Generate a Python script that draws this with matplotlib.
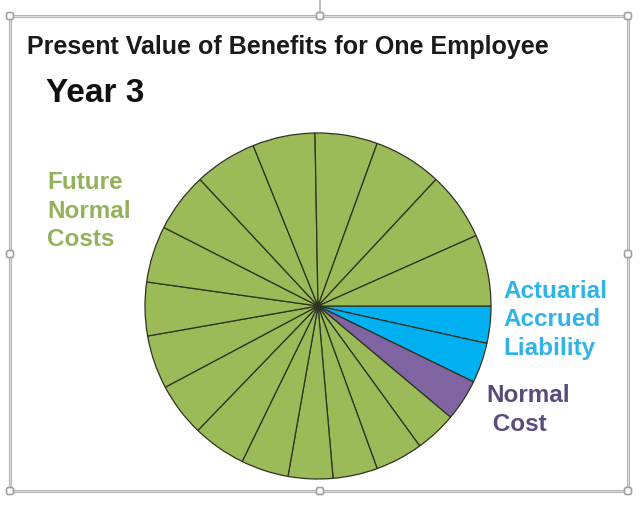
import matplotlib.pyplot as plt
from matplotlib.patches import FancyBboxPatch, Rectangle

# slices clockwise from 3 o'clock: accrued liability (2 yrs), normal cost, future years
slice_sizes = [12.5, 13.5, 14,
               14, 16, 15, 15, 16, 18, 18, 18, 18, 19, 20, 21, 21, 21, 23, 23, 24]
slice_groups = ["aal", "aal", "nc"] + ["fnc"] * 17

colores = {"aal": "#00B0F0", "nc": "#8064A2", "fnc": "#9BBB59"}
color_texto = {"aal": "#2FB4E8", "nc": "#5B4B7A", "fnc": "#93B35A"}

titulo = "Present Value of Benefits for One Employee"
subtitulo = "Year 3"

W, H = 641, 505
fig = plt.figure(figsize=(W / 100, H / 100), dpi=100)
ax = fig.add_axes([0, 0, 1, 1])

# pie in pixel coordinates (y measured from bottom)
ax.pie(slice_sizes, colors=[colores[g] for g in slice_groups],
       startangle=0, counterclock=False, center=(318, H - 306), radius=173,
       wedgeprops=dict(edgecolor="#2d3320", linewidth=0.9))
ax.set_xlim(0, W)
ax.set_ylim(0, H)
ax.set_aspect("equal")
ax.axis("off")

# selection frame with handles
gris = "#b4b4b4"
ax.add_patch(Rectangle((10, H - 491), 618, 475, fill=False,
                       edgecolor=gris, linewidth=2.2, zorder=5))
ax.add_patch(Rectangle((10, H - 491), 618, 475, fill=False,
                       edgecolor="#e6e6e6", linewidth=0.6, zorder=5))
ax.plot([320, 320], [H - 16, H], color=gris, linewidth=1.2, zorder=5)
for hx, hy in [(10, 16), (320, 16), (628, 16), (10, 254), (628, 254),
               (10, 491), (320, 491), (628, 491)]:
    ax.add_patch(FancyBboxPatch((hx - 3.5, H - hy - 3.5), 7, 7,
                                boxstyle="round,pad=0,rounding_size=2",
                                facecolor="white", edgecolor="#a0a0a0",
                                linewidth=1.2, zorder=6))

fuente = "Liberation Sans"
ax.text(27, H - 47, titulo, fontsize=18, fontweight="bold", family=fuente,
        color="#1a1a1a", va="center", ha="left")
ax.text(46, H - 93, subtitulo, fontsize=24, fontweight="bold", family=fuente,
        color="#111111", va="center", ha="left")

ax.text(47, H - 211, "Future\nNormal\nCosts", fontsize=17.5, fontweight="bold",
        family=fuente, color=color_texto["fnc"], va="center", ha="left",
        linespacing=1.32)
ax.text(503, H - 320, "Actuarial\nAccrued\nLiability", fontsize=17.5,
        fontweight="bold", family=fuente, color=color_texto["aal"],
        va="center", ha="left", linespacing=1.32)
ax.text(486, H - 410, "Normal\n Cost", fontsize=17.5, fontweight="bold",
        family=fuente, color=color_texto["nc"], va="center", ha="left",
        linespacing=1.32)

fig.savefig("out.png", dpi=100, facecolor="white")
